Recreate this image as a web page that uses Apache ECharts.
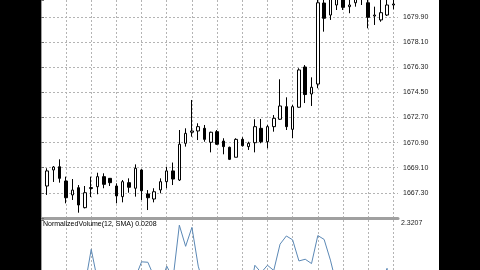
<!DOCTYPE html>
<html><head><meta charset="utf-8">
<script src="https://cdn.jsdelivr.net/npm/echarts@6/dist/echarts.min.js"></script>
<style>html,body{margin:0;padding:0;background:#000;}#c{width:480px;height:270px;}</style>
</head><body><div id="c"></div>
<script>
// bar numbers (time labels are not shown in the picture)
const bars = Array.from({length: 56}, (_, i) => String(i + 1));
const open  = [1667.79,1668.94,1669.17,1668.15,1667.15,1667.67,1666.24,1667.61,1667.74,1668.46,1668.34,1667.79,1667.03,1668.03,1667.63,1668.94,1667.22,1666.86,1667.51,1668.10,1668.87,1668.22,1670.85,1671.64,1671.73,1671.92,1670.92,1671.68,1671.01,1670.56,1669.85,1671.13,1670.61,1670.89,1671.92,1670.96,1672.04,1672.57,1673.47,1671.85,1673.43,1676.31,1674.38,1675.09,1680.89,1680.03,1680.75,1681.40,1680.63,1680.91,1681.20,1680.91,1679.96,1679.68,1680.03,1680.75];
const close = [1668.87,1669.15,1668.34,1666.95,1667.50,1666.43,1667.31,1667.68,1668.46,1667.91,1668.03,1667.08,1668.10,1667.70,1669.06,1667.45,1666.95,1667.38,1668.10,1668.87,1668.29,1670.78,1671.56,1671.73,1672.04,1671.13,1671.64,1670.78,1670.61,1669.70,1671.13,1670.68,1670.85,1672.04,1670.96,1672.04,1672.64,1673.52,1672.04,1673.47,1676.10,1674.34,1674.86,1680.91,1679.80,1681.30,1681.40,1680.58,1680.75,1681.20,1681.30,1679.87,1680.03,1680.20,1680.75,1680.82];
const low   = [1667.15,1668.08,1668.03,1666.55,1666.79,1665.88,1666.19,1667.00,1667.20,1667.63,1667.79,1666.55,1666.62,1667.31,1667.03,1666.79,1666.07,1666.62,1667.27,1667.63,1667.86,1668.15,1670.61,1671.32,1671.08,1670.96,1670.20,1670.73,1670.06,1669.65,1669.85,1670.61,1670.37,1670.20,1670.85,1670.49,1671.68,1672.52,1671.80,1671.21,1673.40,1673.73,1673.52,1674.79,1678.84,1679.68,1680.39,1680.39,1680.16,1680.63,1680.75,1679.08,1679.32,1679.55,1679.96,1680.44];
const high  = [1669.06,1669.22,1669.70,1668.46,1668.29,1667.86,1667.79,1668.46,1668.74,1668.70,1668.36,1667.98,1668.22,1668.34,1669.34,1668.99,1667.50,1667.63,1668.34,1669.17,1669.47,1671.80,1671.92,1673.95,1672.28,1672.16,1671.68,1671.80,1671.21,1670.61,1671.21,1671.28,1670.96,1672.57,1672.59,1672.16,1672.87,1675.43,1674.14,1673.59,1676.22,1676.45,1675.57,1681.30,1681.25,1681.50,1681.60,1681.60,1681.20,1681.40,1681.50,1681.30,1680.63,1681.20,1681.20,1681.20];
const volume = [0.85,0.72,0.95,1.02,0.88,1.15,0.80,1.64,0.92,0.70,0.55,0.78,0.86,0.60,0.98,1.35,1.34,1.00,0.82,1.25,0.96,2.20,1.71,2.15,1.25,0.75,0.68,0.62,0.70,0.85,0.92,0.58,0.50,1.27,1.10,1.27,1.15,1.76,1.95,1.86,1.37,1.41,1.31,1.96,1.87,1.39,0.80,0.72,0.66,0.55,0.60,0.95,0.70,0.82,1.20,0.0208];
const priceTicks = [1667.30,1669.10,1670.90,1672.70,1674.50,1676.30,1678.10,1679.90];
const volumeTicks = [2.3207];

const FONT = 'Liberation Sans';
const gridColor = '#b4b4b4';
const frameColor = '#a0a0a0';
const chart = echarts.init(document.getElementById('c'), null, {renderer: 'canvas'});
const candles = bars.map((b, i) => [open[i], close[i], low[i], high[i]]);
const vGrid = {show: true, alignWithLabel: true, interval: (idx) => idx % 4 === 3,
  lineStyle: {color: gridColor, type: [2, 2], width: 1}};
const hidden = {axisLine: {show: false}, axisTick: {show: false}, axisLabel: {show: false}, splitLine: {show: false}};
// only the upper half of the indicator window is visible in the picture
const volMax = volumeTicks[0], volStep = volMax / 2;

chart.setOption({
  backgroundColor: '#ffffff',
  animation: false,
  title: {
    text: 'NormalizedVolume(12, SMA) ' + volume[volume.length - 1].toFixed(4),
    left: 43, top: 221, padding: 0,
    textStyle: {fontFamily: FONT, fontSize: 7, fontWeight: 'normal', color: '#000'}
  },
  graphic: [
    {type: 'rect', shape: {x: 0, y: 0, width: 41, height: 270}, style: {fill: '#000'}, z: 100},
    {type: 'rect', shape: {x: 439, y: 0, width: 41, height: 270}, style: {fill: '#000'}, z: 100}
  ],
  grid: [
    {left: 41, top: 0, width: 357, height: 218},
    {left: 44, top: 0, width: 352.5, height: 218},
    {left: 41, top: 220, width: 357, height: 50},
    {left: 44, top: 220, width: 352.5, height: 50}
  ],
  xAxis: [
    Object.assign({gridIndex: 0, type: 'value', min: 0, max: 1}, hidden,
      {axisLine: {show: true, lineStyle: {color: frameColor, width: 3}}}),
    Object.assign({gridIndex: 1, type: 'category', data: bars, boundaryGap: true}, hidden, {splitLine: vGrid}),
    Object.assign({gridIndex: 2, type: 'value', min: 0, max: 1}, hidden),
    Object.assign({gridIndex: 3, type: 'category', data: bars, boundaryGap: true}, hidden, {splitLine: vGrid})
  ],
  yAxis: [
    {gridIndex: 0, type: 'value', position: 'right', min: 1665.5, max: 1681.107, interval: 1.8,
     axisLine: {show: true, lineStyle: {color: frameColor}},
     axisTick: {show: true, length: 3, lineStyle: {color: '#707070'}},
     axisLabel: {margin: 5, fontFamily: FONT, fontSize: 7, color: '#222',
       formatter: v => priceTicks.some(t => Math.abs(t - v) < 0.01) ? v.toFixed(2) : ''},
     splitLine: {show: true, showMaxLine: false, lineStyle: {color: gridColor, type: [2, 2]}}},
    Object.assign({gridIndex: 1, type: 'value', min: 1665.5, max: 1681.107}, hidden),
    {gridIndex: 2, type: 'value', position: 'right', min: volStep, max: volMax, interval: volStep,
     axisLine: {show: true, lineStyle: {color: frameColor}},
     axisTick: {show: true, length: 3, lineStyle: {color: '#707070'}},
     axisLabel: {margin: 3, fontFamily: FONT, fontSize: 7, color: '#222', verticalAlign: 'top',
       formatter: v => volumeTicks.some(t => Math.abs(t - v) < 0.0001) ? v.toFixed(4) : ''},
     splitLine: {show: false}},
    Object.assign({gridIndex: 3, type: 'value', min: volStep, max: volMax}, hidden)
  ],
  series: [
    {type: 'candlestick', xAxisIndex: 1, yAxisIndex: 1, data: candles, barWidth: 3, clip: true,
     itemStyle: {color: '#ffffff', color0: '#000000', borderColor: '#000000', borderColor0: '#000000', borderWidth: 1}},
    {type: 'line', xAxisIndex: 3, yAxisIndex: 3, data: volume, symbol: 'none', clip: true,
     lineStyle: {color: '#5b88b5', width: 1}}
  ]
});
</script></body></html>
